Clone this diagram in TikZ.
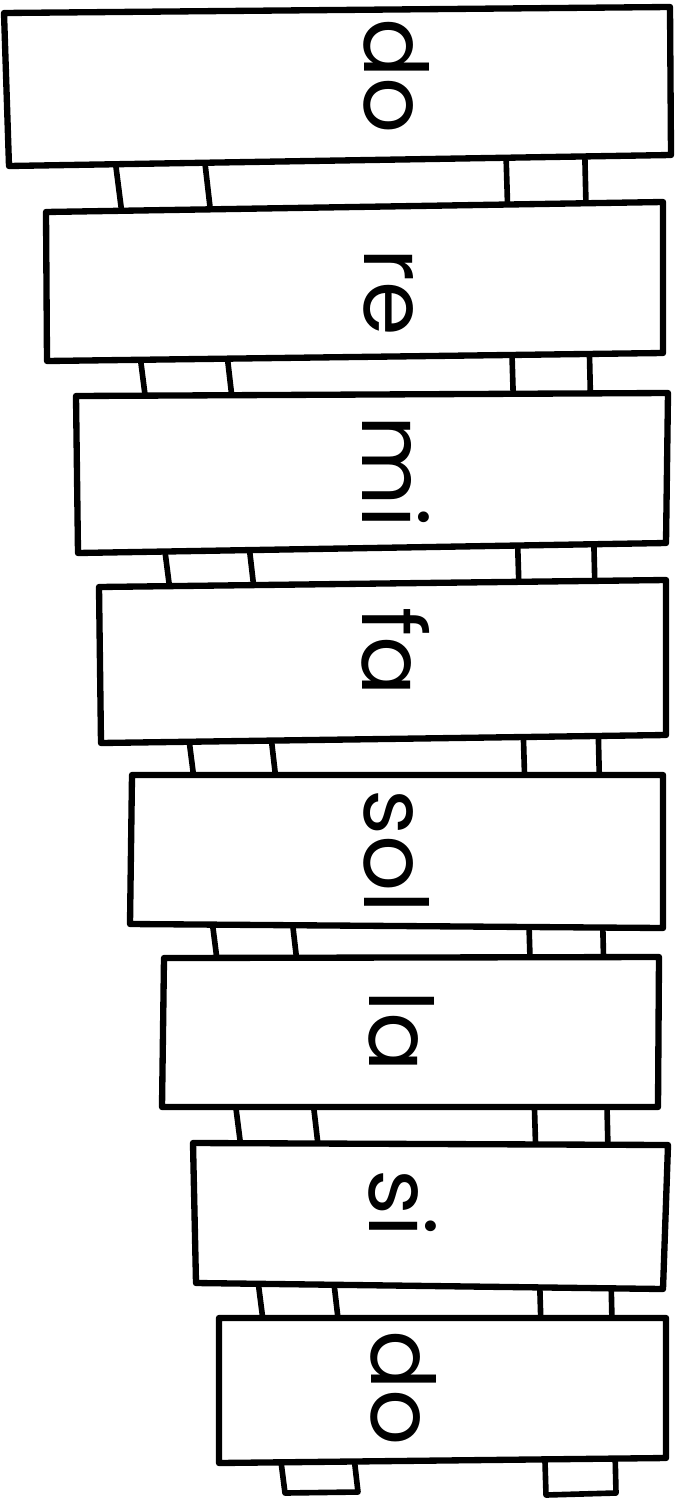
\documentclass[tikz,border=0pt]{standalone}
\usepackage{fontspec}
\setmainfont{Poppins}

\begin{document}
\begin{tikzpicture}
[
	x=0.02cm, y=-0.02cm,
	bar/.style={draw,fill=white,line width=3.6pt,line join=round},
	rail/.style={draw,line width=3.2pt,line join=round},
	note/.style={rotate=-90,anchor=base,font=\fontsize{50}{50}\selectfont}
]
	\useasboundingbox (0,0) rectangle (680,1504);

	% rails
	\coordinate (leftouter) at (110,120);
	\coordinate (leftinner) at (200,120);
	\coordinate (rightinner) at (505,120);
	\coordinate (rightouter) at (584,120);
	\coordinate (leftfootA) at (285,1493);
	\coordinate (leftfootB) at (358,1492);
	\coordinate (rightfootA) at (546,1495);
	\coordinate (rightfootB) at (616,1493);
	\draw[rail] (leftouter) -- (leftfootA) -- (leftfootB) -- (leftinner);
	\draw[rail] (rightinner) -- (rightfootA) -- (rightfootB) -- (rightouter);

	% bars
	\draw[bar] (4,13) -- (670,7) -- (671,155) -- (9,166) -- cycle;
	\draw[bar] (46,212) -- (663,202) -- (663,353) -- (47,361) -- cycle;
	\draw[bar] (76,396) -- (668,393) -- (666,543) -- (78,553) -- cycle;
	\draw[bar] (99,587) -- (666,580) -- (666,735) -- (101,743) -- cycle;
	\draw[bar] (132,775) -- (663,775) -- (663,928) -- (130,924) -- cycle;
	\draw[bar] (164,958) -- (659,957) -- (658,1107) -- (162,1107) -- cycle;
	\draw[bar] (193,1143) -- (668,1145) -- (663,1289) -- (196,1283) -- cycle;
	\draw[bar] (219,1318) -- (666,1318) -- (666,1458) -- (219,1463) -- cycle;

	% names
	\node[note] (do) at (364,76) {do};
	\node[note] (re) at (364,292) {re};
	\node[note] (mi) at (362,472) {mi};
	\node[note] (fa) at (362,652) {fa};
	\node[note] (sol) at (364,851) {sol};
	\node[note] (la) at (369,1031) {la};
	\node[note] (si) at (369,1203) {si};
	\node[note] (highdo) at (371,1388) {do};

\end{tikzpicture}
\end{document}
